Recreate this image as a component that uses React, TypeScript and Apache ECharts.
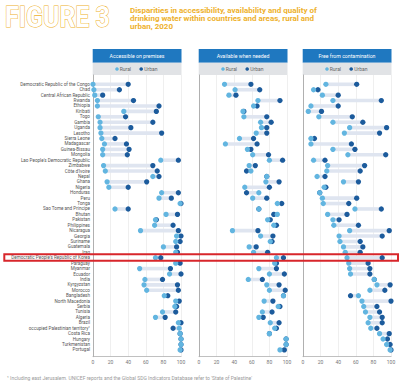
import { useEffect, useRef } from 'react';
import * as echarts from 'echarts';

const countries = [
  'Democratic Republic of the Congo', 'Chad', 'Central African Republic', 'Rwanda', 'Ethiopia',
  'Kiribati', 'Togo', 'Gambia', 'Uganda', 'Lesotho', 'Sierra Leone', 'Madagascar', 'Guinea-Bissau',
  'Mongolia', "Lao People's Democratic Republic", 'Zimbabwe', "Côte d'Ivoire", 'Nepal', 'Ghana',
  'Nigeria', 'Honduras', 'Peru', 'Tonga', 'Sao Tome and Principe', 'Bhutan', 'Pakistan',
  'Philippines', 'Nicaragua', 'Georgia', 'Suriname', 'Guatemala', 'Iraq',
  "Democratic People's Republic of Korea", 'Paraguay', 'Myanmar', 'Ecuador', 'India', 'Kyrgyzstan',
  'Morocco', 'Bangladesh', 'North Macedonia', 'Serbia', 'Tunisia', 'Algeria', 'Brazil',
  'occupied Palestinian territory¹', 'Costa Rica', 'Hungary', 'Turkmenistan', 'Portugal',
];

const accessibleRural = [0, 1, 2, 5, 5, 35, 6, 8, 8, 9, 10, 13, 11, 11, 77, 12, 14, 68, 16, 18, 78, 75, 99, 25, 83, 71, 70, 54, 95, 94, 80, 94, 71, 94, 53, 87, 59, 58, 61, 81, 94, 93, 79, 71, 97, 98, 99, 100, 100, 99];
const accessibleUrban = [40, 30, 11, 46, 75, 72, 37, 68, 43, 78, 25, 38, 41, 39, 97, 68, 73, 75, 61, 40, 97, 89, 100, 40, 96, 72, 91, 97, 100, 99, 95, 96, 77, 99, 88, 100, 79, 96, 97, 85, 98, 95, 94, 82, 100, 91, 99, 100, 100, 100];
const availableRural = [29, 41, 34, 67, 62, 50, 51, 70, 71, 65, 46, 30, 55, 61, 80, 57, 59, 77, 76, 52, 68, 61, 89, 68, 89, 78, 85, 38, 70, 81, 57, 62, 88, 86, 68, 80, 56, 77, 80, 96, 74, 90, 72, 68, 81, 86, 80, 99, 99, 92];
const availableUrban = [59, 69, 42, 92, 66, 51, 77, 82, 77, 77, 62, 66, 59, 79, 95, 64, 54, 77, 91, 80, 54, 77, 94, 68, 85, 81, 88, 67, 84, 83, 65, 78, 96, 88, 88, 97, 72, 91, 98, 96, 84, 92, 83, 73, 91, 88, 80, 99, 99, 97];
const freeRural = [26, 12, 22, 34, 9, 6, 18, 34, 53, 47, 9, 9, 34, 51, 12, 28, 27, 16, 46, 24, 19, 22, 23, 59, 28, 34, 35, 53, 41, 42, 46, 48, 50, 52, 53, 54, 81, 84, 76, 63, 67, 69, 71, 76, 74, 77, 87, 91, 95, 99];
const freeUrban = [61, 17, 40, 89, 40, 21, 56, 68, 95, 87, 13, 55, 59, 94, 25, 70, 65, 25, 63, 26, 19, 61, 52, 89, 50, 41, 63, 98, 90, 65, 68, 65, 90, 74, 76, 76, 81, 99, 93, 54, 100, 84, 87, 90, 90, 84, 98, 96, 99, 100];

const panelTitles = ['Accessible on premises', 'Available when needed', 'Free from contamination'];
const seriesNames = ['Rural', 'Urban'];
const axisMin = 0;
const axisMax = 100;
const axisStep = 20;

const RURAL = '#62b5e0';
const URBAN = '#1c5b9c';
const HEADER = '#1f78c0';
const BAND = '#dfe5f0';
const TITLE_Y = '#eeb12c';

export default function App() {
  const ref = useRef<HTMLDivElement>(null);
  useEffect(() => {
    const chart = echarts.init(ref.current!, null, { renderer: 'svg' });
    const panels = [
      { left: 93, width: 88, rural: accessibleRural, urban: accessibleUrban },
      { left: 199, width: 88, rural: availableRural, urban: availableUrban },
      { left: 303, width: 88, rural: freeRural, urban: freeUrban },
    ];
    const grid: any[] = [];
    const xAxis: any[] = [];
    const yAxis: any[] = [];
    const series: any[] = [];
    const graphic: any[] = [];
    const font = 'Roboto';

    panels.forEach((p, i) => {
      grid.push({ left: p.left, width: p.width, top: 75, height: 281.7 });
      grid.push({ left: p.left, width: p.width, top: 81.6, height: 271 });
      xAxis.push({
        gridIndex: 2 * i, type: 'value', min: axisMin, max: axisMax, interval: axisStep,
        axisLine: { show: true, lineStyle: { color: '#b0b0b0', width: 0.8 } },
        axisTick: { show: false },
        axisLabel: { fontSize: 5, color: '#777', margin: 3, fontFamily: font },
        splitLine: { show: true, lineStyle: { color: '#e8e8e8', width: 0.7 } },
      });
      yAxis.push({
        gridIndex: 2 * i, type: 'value', min: 0, max: 1,
        axisLine: { show: true, lineStyle: { color: '#a8a8a8', width: 0.9 } },
        axisLabel: { show: false }, axisTick: { show: false }, splitLine: { show: false },
      });
      xAxis.push({ gridIndex: 2 * i + 1, type: 'value', min: axisMin, max: axisMax, show: false });
      yAxis.push({
        gridIndex: 2 * i + 1, type: 'category', data: countries, inverse: true,
        axisLine: { show: false }, axisTick: { show: false }, splitLine: { show: false },
        axisLabel: { show: i === 0, interval: 0, fontSize: 4.6, color: '#555', margin: 3, fontFamily: font },
      });
      const idx = 2 * i + 1;
      series.push({
        type: 'custom', xAxisIndex: idx, yAxisIndex: idx, silent: true,
        encode: { x: [0, 1], y: 2 },
        data: countries.map((_, k) => [p.rural[k], p.urban[k], k]),
        renderItem: (params: any, api: any) => {
          const a = api.value(0), b = api.value(1), k = api.value(2);
          const p1 = api.coord([Math.min(a, b), k]);
          const p2 = api.coord([Math.max(a, b), k]);
          const h = 3.6;
          return { type: 'rect', shape: { x: p1[0], y: p1[1] - h / 2, width: p2[0] - p1[0], height: h }, style: { fill: BAND } };
        },
      });
      series.push({
        type: 'scatter', name: seriesNames[1], xAxisIndex: idx, yAxisIndex: idx, symbolSize: 5.3,
        itemStyle: { color: URBAN, opacity: 1 },
        data: countries.map((_, k) => [p.urban[k], k]),
      });
      series.push({
        type: 'scatter', name: seriesNames[0], xAxisIndex: idx, yAxisIndex: idx, symbolSize: 5.3,
        itemStyle: { color: RURAL, opacity: 1 },
        data: countries.map((_, k) => [p.rural[k], k]),
      });
      const c = p.left + p.width / 2;
      graphic.push({ type: 'rect', shape: { x: p.left - 0.3, y: 49, width: p.width + 0.8, height: 13.7 }, style: { fill: HEADER } });
      graphic.push({ type: 'rect', shape: { x: p.left - 0.3, y: 62.7, width: p.width + 0.8, height: 12.3 }, style: { fill: '#e1e3e6' } });
      graphic.push({ type: 'text', x: c, y: 56, style: { text: panelTitles[i], fill: '#fff', font: `5.2px ${font}`, textAlign: 'center', textVerticalAlign: 'middle' } });
      graphic.push({ type: 'circle', shape: { cx: c - 20, cy: 69, r: 1.8 }, style: { fill: RURAL } });
      graphic.push({ type: 'text', x: c - 17.3, y: 69, style: { text: seriesNames[0], fill: '#666', font: `5px ${font}`, textAlign: 'left', textVerticalAlign: 'middle' } });
      graphic.push({ type: 'circle', shape: { cx: c + 4.2, cy: 69, r: 1.8 }, style: { fill: URBAN } });
      graphic.push({ type: 'text', x: c + 7.3, y: 69, style: { text: seriesNames[1], fill: '#666', font: `5px ${font}`, textAlign: 'left', textVerticalAlign: 'middle' } });
    });

    graphic.push({
      type: 'text', x: 5, y: 3, scaleX: 0.86,
      style: { text: 'FIGURE 3', fill: '#fff', stroke: TITLE_Y, lineWidth: 1.1, font: `bold 29px ${font}`, textVerticalAlign: 'top' },
    });
    graphic.push({
      type: 'text', x: 130, y: 6,
      style: {
        text: 'Disparities in accessibility, availability and quality of\ndrinking water within countries and areas, rural and\nurban, 2020',
        fill: TITLE_Y, font: `bold 8px ${font}`, lineHeight: 8.2, textVerticalAlign: 'top',
      },
    });
    graphic.push({
      type: 'rect', z: 100, shape: { x: 4.3, y: 254.3, width: 393.7, height: 6.4 },
      style: { fill: 'none', stroke: '#d8262b', lineWidth: 2 },
    });
    graphic.push({
      type: 'text', x: 7, y: 378,
      style: {
        text: "¹ Including east Jerusalem. UNICEF reports and the Global SDG Indicators Database refer to 'State of Palestine'",
        fill: '#9a9a9a', font: `5px ${font}`, textVerticalAlign: 'middle',
      },
    });

    chart.setOption({ animation: false, backgroundColor: '#fff', grid, xAxis, yAxis, series, graphic });
    return () => chart.dispose();
  }, []);
  return <div ref={ref} style={{ position: 'fixed', left: 0, top: 0, width: 400, height: 387, background: '#fff' }} />;
}
